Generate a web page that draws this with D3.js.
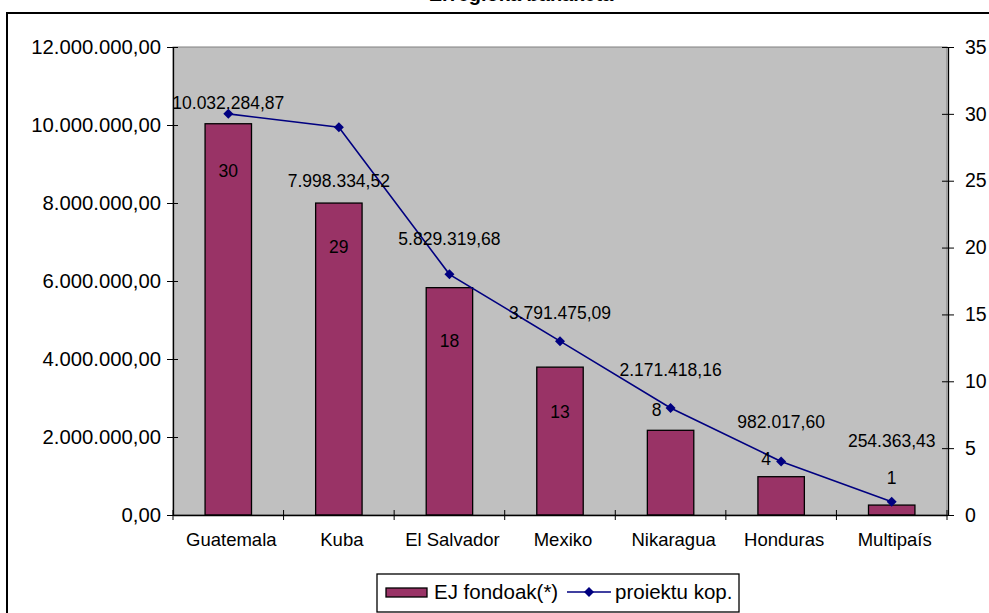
<!DOCTYPE html>
<html lang="en">
<head>
  <meta charset="UTF-8" />
  <title>EJ fondoak eta proiektuak</title>
  <script src="https://d3js.org/d3.v7.min.js"></script>
  <style>
    body { margin: 0; background: #fff; font-family: "Liberation Sans", Arial, sans-serif; }
    svg { display: block; }
    .axis text { font-family: "Liberation Sans", Arial, sans-serif; fill: #000; }
  </style>
</head>
<body>
  <svg width="989" height="613"></svg>

  <script>
    const countries = ["Guatemala", "Kuba", "El Salvador", "Mexiko", "Nikaragua", "Honduras", "Multipaís"];
    const funds = [10032284.87, 7998334.52, 5829319.68, 3791475.09, 2171418.16, 982017.60, 254363.43];
    const projects = [30, 29, 18, 13, 8, 4, 1];
    const leftTicks = [0, 2000000, 4000000, 6000000, 8000000, 10000000, 12000000];
    const rightTicks = [0, 5, 10, 15, 20, 25, 30, 35];

    // hand placed label nudges (pixels), as in the original sheet
    const fundLabelDy = [-21, -22, -49, -54, -60, -55, -64];
    const countLabelDx = [0, 0, 0, 0, -14, -15, 0];
    const countLabelDy = [57, 120, 67, 71, 2, -3, -24];

    const svg = d3.select("svg");
    const plot = { left: 173, right: 947, top: 47, bottom: 515 };

    // number format 1.234.567,89
    const fmt = d3.formatLocale({ decimal: ",", thousands: ".", grouping: [3], currency: ["", ""] });
    const money = fmt.format(",.2f");

    // title, mostly cut off above the frame
    svg.append("text")
      .attr("x", 521).attr("y", 0.5)
      .attr("text-anchor", "middle")
      .attr("font-weight", "bold")
      .attr("font-size", 20)
      .text("Erregioka banaketa");

    // outer frame
    svg.append("rect")
      .attr("x", 7).attr("y", 13)
      .attr("width", 1000).attr("height", 700)
      .attr("fill", "#fff").attr("stroke", "#000").attr("stroke-width", 2);

    const x = d3.scaleBand()
      .domain(countries)
      .range([plot.left, plot.right]);

    const yLeft = d3.scaleLinear().domain([0, 12000000]).range([plot.bottom, plot.top]);
    const yRight = d3.scaleLinear().domain([0, 35]).range([plot.bottom, plot.top]);

    // plot area
    svg.append("rect")
      .attr("x", plot.left).attr("y", plot.top)
      .attr("width", plot.right - plot.left).attr("height", plot.bottom - plot.top)
      .attr("fill", "#c0c0c0").attr("stroke", "#808080").attr("stroke-width", 1);

    // bars
    const barW = x.bandwidth() * 0.42;
    svg.append("g").selectAll("rect")
      .data(funds)
      .join("rect")
      .attr("x", (d, i) => x(countries[i]) + (x.bandwidth() - barW) / 2)
      .attr("y", d => yLeft(d))
      .attr("width", barW)
      .attr("height", d => plot.bottom - yLeft(d))
      .attr("fill", "#993366")
      .attr("stroke", "#000")
      .attr("stroke-width", 1.3);

    // axes
    const gl = svg.append("g")
      .attr("class", "axis")
      .attr("transform", `translate(${plot.left},0)`)
      .call(d3.axisLeft(yLeft).tickValues(leftTicks).tickFormat(money).tickSizeInner(6).tickSizeOuter(0).tickPadding(6));
    gl.selectAll(".tick line").attr("x2", -6).attr("x1", 5);
    gl.selectAll("text").attr("font-size", 20.3);

    const gr = svg.append("g")
      .attr("class", "axis")
      .attr("transform", `translate(${plot.right + 1},0)`)
      .call(d3.axisRight(yRight).tickValues(rightTicks).tickSizeInner(6).tickSizeOuter(0).tickPadding(11));
    gr.selectAll(".tick line").attr("x1", -6).attr("x2", 6);
    gr.selectAll("text").attr("font-size", 19.5);

    const gb = svg.append("g")
      .attr("class", "axis")
      .attr("transform", `translate(0,${plot.bottom})`)
      .call(d3.axisBottom(x).tickSize(0).tickPadding(18));
    gb.selectAll("text").attr("font-size", 18.5).attr("dx", 3);
    gb.select(".domain").attr("stroke", "#000").attr("stroke-width", 1.3);
    // category boundary ticks
    gb.selectAll(".sep")
      .data(countries.concat([null]))
      .join("line")
      .attr("x1", (d, i) => plot.left + i * x.step())
      .attr("x2", (d, i) => plot.left + i * x.step())
      .attr("y1", -5).attr("y2", 5)
      .attr("stroke", "#000");
    gl.select(".domain").attr("stroke-width", 1.3);
    gr.select(".domain").attr("stroke-width", 1.3);

    // line of project counts
    const cx = d => x(d) + x.bandwidth() / 2;
    svg.append("path")
      .datum(projects)
      .attr("fill", "none")
      .attr("stroke", "#000080")
      .attr("stroke-width", 1.6)
      .attr("d", d3.line().x((d, i) => cx(countries[i])).y(d => yRight(d)));

    svg.append("g").selectAll("path")
      .data(projects)
      .join("path")
      .attr("d", d3.symbol().type(d3.symbolSquare).size(50))
      .attr("transform", (d, i) => `translate(${cx(countries[i])},${yRight(d)}) rotate(45)`)
      .attr("fill", "#000080");

    // labels
    svg.append("g").selectAll("text")
      .data(funds)
      .join("text")
      .attr("x", (d, i) => cx(countries[i]))
      .attr("y", (d, i) => yLeft(d) + fundLabelDy[i])
      .attr("dy", "0.35em")
      .attr("text-anchor", "middle")
      .attr("font-size", 17.5)
      .text(d => money(d));

    svg.append("g").selectAll("text")
      .data(projects)
      .join("text")
      .attr("x", (d, i) => cx(countries[i]) + countLabelDx[i])
      .attr("y", (d, i) => yRight(d) + countLabelDy[i])
      .attr("dy", "0.35em")
      .attr("text-anchor", "middle")
      .attr("font-size", 17.5)
      .text(d => d);

    // legend
    const lg = svg.append("g");
    lg.append("rect")
      .attr("x", 377).attr("y", 574).attr("width", 362).attr("height", 38)
      .attr("fill", "#fff").attr("stroke", "#000").attr("stroke-width", 1.3);
    lg.append("rect")
      .attr("x", 386).attr("y", 588).attr("width", 41).attr("height", 9)
      .attr("fill", "#993366").attr("stroke", "#000").attr("stroke-width", 1.3);
    lg.append("text")
      .attr("x", 434).attr("y", 599).attr("font-size", 20.5)
      .text("EJ fondoak(*)");
    lg.append("line")
      .attr("x1", 567).attr("x2", 611).attr("y1", 592).attr("y2", 592)
      .attr("stroke", "#000080").attr("stroke-width", 1.6);
    lg.append("path")
      .attr("d", d3.symbol().type(d3.symbolSquare).size(50))
      .attr("transform", "translate(589,592) rotate(45)")
      .attr("fill", "#000080");
    lg.append("text")
      .attr("x", 615).attr("y", 599).attr("font-size", 20.5)
      .text("proiektu kop.");
  </script>
</body>
</html>
